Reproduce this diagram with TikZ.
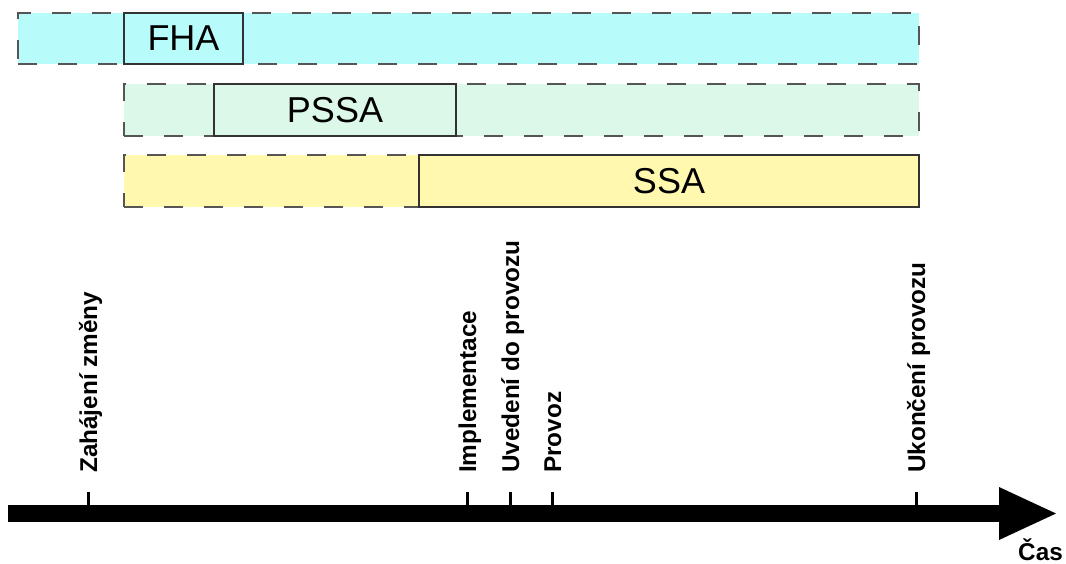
\documentclass[tikz,border=0pt]{standalone}
\usepackage{fontspec}
\setmainfont{Liberation Sans}
\usepackage{xcolor}
\usetikzlibrary{positioning, calc}

\definecolor{fhafill}{HTML}{B7FBFB}
\definecolor{pssafill}{HTML}{DCF8E8}
\definecolor{ssafill}{HTML}{FFF8AE}
\definecolor{bandedge}{HTML}{555555}

\begin{document}
\begin{tikzpicture}[
  x=1pt, y=-1pt,
  band/.style={rectangle, draw=bandedge, line width=1.5pt, dash pattern=on 19pt off 21pt, minimum height=52pt, anchor=north west, inner sep=0pt, outer sep=0pt},
  stage/.style={rectangle, draw=black!80, line width=1.5pt, minimum height=52pt, anchor=north west, inner sep=0pt, outer sep=0pt, font=\fontsize{36}{40}\selectfont},
  event/.style={rotate=90, anchor=base west, inner sep=0pt, font=\fontsize{24.3}{28}\selectfont\bfseries},
  tickline/.style={line width=3pt}
]
\useasboundingbox (0,0) rectangle (1066,563);

% phases
\node[band, fill=fhafill, minimum width=901pt, minimum height=51pt] (FHAband) at (18,13) {};
\node[stage, fill=fhafill, minimum width=119pt, minimum height=51pt] (FHA) at (124,13) {FHA};
\node[band, fill=pssafill, minimum width=795pt] (PSSAband) at (124,84) {};
\node[stage, fill=pssafill, minimum width=242pt] (PSSA) at (214,84) {PSSA};
\node[band, fill=ssafill, minimum width=795pt] (SSAband) at (124,155) {};
\node[stage, fill=ssafill, minimum width=500pt] (SSA) at (419,155) {SSA};

% time axis
\coordinate (axisL) at (8,513.5);
\coordinate (axisB) at (999,513.5);
\coordinate (axisT) at (1056,513.5);
\draw[line width=17pt] (axisL) -- (axisB);
\fill (axisT) -- ($(axisB)+(0,-26.5)$) -- ($(axisB)+(0,26.5)$) -- cycle;
\node[font=\fontsize{24.3}{28}\selectfont\bfseries, anchor=base east, inner sep=0pt] (cas) at (1063,560) {Čas};

\foreach \x/\name/\txt in {88/zahajeni/Zahájení změny, 467/implementace/Implementace, 510/uvedeni/Uvedení do provozu, 552/provoz/Provoz, 916/ukonceni/Ukončení provozu} {
  \draw[tickline] (\x,492) -- (\x,506);
  \node[event] (\name) at (\x+9,473) {\txt};
}
\end{tikzpicture}
\end{document}
